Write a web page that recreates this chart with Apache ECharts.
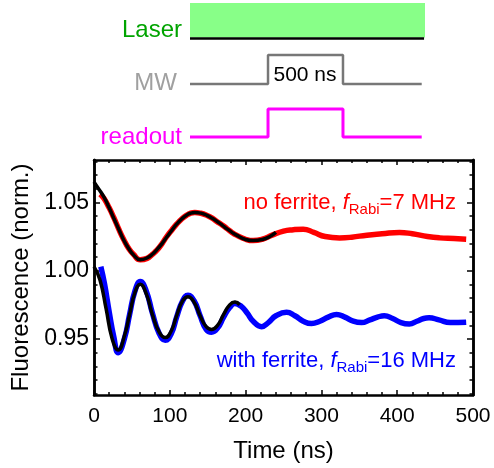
<!DOCTYPE html>
<html>
<head>
<meta charset="utf-8">
<script src="https://cdn.jsdelivr.net/npm/echarts@6.0.0/dist/echarts.min.js"></script>
<style>
html,body{margin:0;padding:0;background:#fff;}
#chart{width:494px;height:468px;}
</style>
</head>
<body>
<div id="chart"></div>
<script>
// 数据: no ferrite (red) 测量
let redT=[8,13,20,26,33,39,46,52,61,70,77,83,90,96,103,109,116,122,127,133,141,149,156,162,169,175,182,188,200,210,222,235,250,263,276,290,305,324,340,360,380,403,420,440,456,475,491];
let redY=[1.056,1.053,1.046,1.039,1.030,1.023,1.016,1.012,1.008,1.009,1.012,1.015,1.020,1.025,1.030,1.034,1.038,1.0405,1.042,1.0426,1.042,1.0405,1.0385,1.036,1.0335,1.031,1.028,1.026,1.023,1.022,1.023,1.026,1.029,1.030,1.0304,1.028,1.025,1.024,1.0245,1.026,1.027,1.028,1.027,1.025,1.024,1.0235,1.023];
// no ferrite 拟合
let redFitT=[0,6,13,20,26,33,39,46,52,61,70,77,83,90,96,103,109,116,122,127,133,141,149,156,162,169,175,182,188,200,210,222,232,240];
let redFitY=[1.065,1.060,1.054,1.046,1.0385,1.030,1.0226,1.016,1.0117,1.008,1.0093,1.012,1.0154,1.020,1.0246,1.0298,1.034,1.038,1.0406,1.042,1.0426,1.0421,1.0405,1.0384,1.0362,1.0334,1.0308,1.028,1.026,1.0228,1.022,1.0228,1.025,1.028];
// with ferrite (blue) 测量
let blueT=[9,14,20,26,32,40,47,54,61,69,77,86,94,102,109,117,124,132,140,148,155,163,171,179,186,194,202,210,221,230,240,254,265,276,287,298,309,320,331,342,353,364,374,383,394,405,416,426,435,442,455,470,491];
let blueY=[1.003,0.990,0.970,0.952,0.940,0.950,0.968,0.985,0.992,0.985,0.969,0.954,0.949,0.954,0.966,0.978,0.982,0.978,0.967,0.957,0.955,0.958,0.966,0.973,0.976,0.974,0.969,0.963,0.959,0.962,0.967,0.9696,0.967,0.963,0.9613,0.963,0.966,0.968,0.966,0.963,0.962,0.964,0.966,0.967,0.965,0.962,0.961,0.963,0.965,0.9655,0.964,0.962,0.9623];
// with ferrite 拟合
let blueFitT=[0,8,16,24,32,40,47,54,61,69,77,86,94,102,109,117,124,132,140,148,155,163,171,179,186,192];
let blueFitY=[1.003,0.993,0.972,0.950,0.942,0.952,0.968,0.984,0.990,0.983,0.968,0.955,0.951,0.956,0.967,0.978,0.981,0.977,0.967,0.959,0.957,0.960,0.968,0.975,0.977,0.975];

let xTicks=[0,100,200,300,400,500];
let yMajor=[0.95,1.00,1.05];
let yMinor=[0.91,0.92,0.93,0.94,0.96,0.97,0.98,0.99,1.01,1.02,1.03,1.04,1.06,1.07,1.08];

// 脉冲序列
let pulseT=[0,0.332,0.332,0.651,0.651,0.986];
let mwLevel=[6.1,6.1,9.0,9.0,6.1,6.1];
let readoutLevel=[0.8,0.8,3.6,3.6,0.8,0.8];
let laserT=[0,0.996];
let laserLevel=[10.65,10.65];
let laserTop=14.2;

function zip(a,b){
    let r=[];
    for(let i=0;i<a.length;i++){r.push([a[i],b[i]]);}
    return r;
}

let font="Liberation Sans, Arial, sans-serif";
let yMin=0.909,yMax=1.081;

function yAx(pos,vals,len,labels){
    return {
        type:'value',gridIndex:0,position:pos,min:yMin,max:yMax,
        axisLine:{show:true,lineStyle:{color:'#000',width:2.5}},
        axisTick:{show:true,inside:true,length:len,customValues:vals,lineStyle:{color:'#000',width:1.5}},
        axisLabel:{show:labels,customValues:vals,fontSize:23,color:'#000',fontFamily:font,margin:5,
            formatter:function(v){return v.toFixed(2);}},
        splitLine:{show:false}
    };
}
function xAx(pos,labels){
    return {
        type:'value',gridIndex:0,position:pos,min:0,max:500,interval:100,
        axisLine:{show:true,onZero:false,lineStyle:{color:'#000',width:2.5}},
        axisTick:{show:true,inside:true,length:5,lineStyle:{color:'#000',width:1.5}},
        minorTick:{show:true,splitNumber:5,length:3,lineStyle:{color:'#000',width:1.5}},
        axisLabel:{show:labels,fontSize:21,color:'#000',fontFamily:font,margin:11},
        splitLine:{show:false}
    };
}

let myChart=echarts.init(document.getElementById('chart'));
let xMain=xAx('bottom',true);
xMain.name='Time (ns)';
xMain.nameLocation='middle';
xMain.nameGap=44;
xMain.nameTextStyle={fontSize:24,color:'#000',fontFamily:font};
let yMain=yAx('left',yMajor,6,true);
yMain.name='Fluorescence (norm.)';
yMain.nameLocation='middle';
yMain.nameGap=60;
yMain.nameTextStyle={fontSize:24,color:'#000',fontFamily:font};

function note(txt,sub,rest,col){
    let st={fontSize:22,fontFamily:font,fill:col,lineHeight:28,verticalAlign:'middle'};
    return {
        text:'{n|'+txt+'}{i|f}{s|'+sub+'}{n|'+rest+'}',align:'right',
        rich:{
            n:st,
            i:Object.assign({},st,{fontStyle:'italic'}),
            s:{fontSize:15,fontFamily:font,fill:col,lineHeight:28,verticalAlign:'bottom'}
        }
    };
}

let option={
    animation:false,
    backgroundColor:'#fff',
    grid:[
        {left:94,right:21,top:160,bottom:73},
        {left:190,right:69,top:0,height:145}
    ],
    xAxis:[
        xMain,
        xAx('top',false),
        {type:'value',gridIndex:1,min:0,max:1,show:false}
    ],
    yAxis:[
        yMain,
        yAx('left',yMinor,3.5,false),
        yAx('right',yMajor,6,false),
        yAx('right',yMinor,3.5,false),
        {type:'value',gridIndex:1,min:0,max:14.5,show:false}
    ],
    series:[
        {type:'line',xAxisIndex:0,yAxisIndex:0,data:zip(redT,redY),smooth:true,showSymbol:false,
            lineStyle:{color:'#ff0000',width:5.5},z:2},
        {type:'line',xAxisIndex:0,yAxisIndex:0,data:zip(redFitT,redFitY),smooth:true,showSymbol:false,
            lineStyle:{color:'#000',width:3.5},z:3},
        {type:'line',xAxisIndex:0,yAxisIndex:0,data:zip(blueT,blueY),smooth:true,showSymbol:false,
            lineStyle:{color:'#0000ff',width:5.5},z:2},
        {type:'line',xAxisIndex:0,yAxisIndex:0,data:zip(blueFitT,blueFitY),smooth:true,showSymbol:false,
            lineStyle:{color:'#000',width:3.5},z:3},
        // 脉冲图
        {type:'line',xAxisIndex:2,yAxisIndex:4,data:zip(laserT,laserLevel),showSymbol:false,
            lineStyle:{color:'#000',width:2.5},z:3,
            markArea:{silent:true,itemStyle:{color:'#88ff88'},
                data:[[{coord:[0,laserLevel[0]+0.1]},{coord:[1,laserTop]}]]}},
        {type:'line',xAxisIndex:2,yAxisIndex:4,data:zip(pulseT,mwLevel),showSymbol:false,
            lineStyle:{color:'#777777',width:2.5}},
        {type:'line',xAxisIndex:2,yAxisIndex:4,data:zip(pulseT,readoutLevel),showSymbol:false,
            lineStyle:{color:'#ff00ff',width:3}}
    ],
    graphic:[
        {type:'text',x:182,y:30,style:{text:'Laser',fill:'#00a400',font:'24px '+font,align:'right',verticalAlign:'middle'}},
        {type:'text',x:177,y:83,style:{text:'MW',fill:'#a0a0a0',font:'24px '+font,align:'right',verticalAlign:'middle'}},
        {type:'text',x:182,y:137,style:{text:'readout',fill:'#ff00ff',font:'24px '+font,align:'right',verticalAlign:'middle'}},
        {type:'text',x:305,y:75,style:{text:'500 ns',fill:'#000',font:'21px '+font,align:'center',verticalAlign:'middle'}},
        {type:'text',x:456,y:189,style:note('no ferrite, ','Rabi','=7 MHz','#ff0000')},
        {type:'text',x:456,y:347,style:note('with ferrite, ','Rabi','=16 MHz','#0000ff')}
    ]
};
myChart.setOption(option);
</script>
</body>
</html>
